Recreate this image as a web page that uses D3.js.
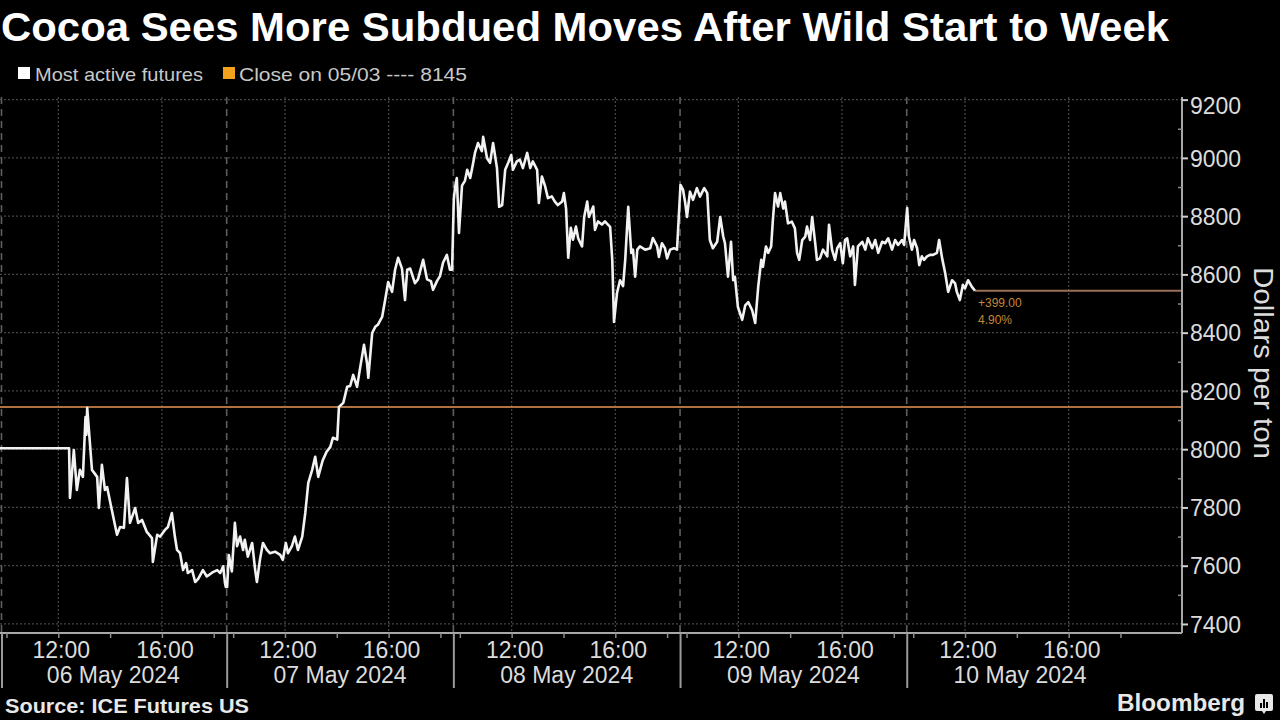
<!DOCTYPE html>
<html><head><meta charset="utf-8">
<script src="https://cdn.jsdelivr.net/npm/d3@7"></script>
<style>html,body{margin:0;padding:0;background:#000;}svg{display:block;}</style>
</head><body>
<svg id="chart" width="1280" height="720"></svg>
<script>
// ---------- data ----------
const title = "Cocoa Sees More Subdued Moves After Wild Start to Week";
const seriesName = "Most active futures";
const prevCloseLabel = "Close on 05/03";
const prevClose = 8145;
const source = "Source: ICE Futures US";
const yTitle = "Dollars per ton";
const dayLabels = ["06 May 2024", "07 May 2024", "08 May 2024", "09 May 2024", "10 May 2024"];
const sessionOpen = "09:45", sessionClose = "18:30";
const labelTimes = ["12:00", "16:00"];
const minorTimes = ["10:00", "12:00", "14:00", "16:00", "18:00"];
const yTicks = [7400, 7600, 7800, 8000, 8200, 8400, 8600, 8800, 9000, 9200];
const yMinor = [7500, 7700, 7900, 8100, 8300, 8500, 8700, 8900, 9100];

const may06 = [["09:45",8003],["12:25",8003],["12:27",7833],["12:36",7997],["12:43",7860],["12:50",7929],["12:57",7905],["13:03",8110],["13:05",8050],["13:07",8142],["13:18",7929],["13:30",7905],["13:34",7798],["13:41",7946],["13:48",7860],["13:53",7870],["14:04",7791],["14:16",7706],["14:23",7733],["14:32",7730],["14:39",7901],["14:46",7747],["14:58",7798],["15:05",7747],["15:14",7757],["15:25",7716],["15:37",7695],["15:39",7613],["15:49",7706],["15:56",7700],["16:07",7723],["16:14",7733],["16:23",7781],["16:30",7700],["16:35",7654],["16:42",7643],["16:49",7585],["16:56",7609],["17:00",7575],["17:10",7585],["17:17",7544],["17:24",7555],["17:35",7585],["17:44",7563],["17:56",7576],["18:08",7585],["18:15",7575],["18:22",7598],["18:26",7541],["18:28",7527]];
const may07 = [["09:46",7527],["09:50",7637],["09:57",7580],["10:04",7747],["10:09",7667],["10:16",7700],["10:23",7654],["10:27",7689],["10:34",7631],["10:44",7678],["10:51",7585],["10:55",7544],["11:02",7620],["11:09",7678],["11:18",7654],["11:25",7643],["11:37",7648],["11:49",7637],["11:55",7620],["12:02",7678],["12:07",7643],["12:16",7667],["12:23",7700],["12:30",7654],["12:40",7700],["12:47",7781],["12:54",7884],["13:03",7929],["13:10",7974],["13:17",7905],["13:27",7960],["13:36",7990],["13:45",8008],["13:51",8039],["14:01",8033],["14:05",8145],["14:15",8159],["14:24",8214],["14:31",8217],["14:38",8255],["14:47",8214],["14:54",8279],["15:03",8358],["15:10",8296],["15:13",8245],["15:22",8399],["15:29",8420],["15:35",8427],["15:45",8454],["15:52",8512],["15:59",8574],["16:08",8540],["16:15",8616],["16:22",8657],["16:31",8620],["16:38",8512],["16:43",8616],["16:50",8620],["17:01",8570],["17:08",8583],["17:20",8650],["17:29",8583],["17:38",8577],["17:43",8547],["17:52",8577],["17:59",8594],["18:06",8640],["18:15",8667],["18:22",8616],["18:27",8616]];
const may08 = [["09:46",8856],["09:49",8900],["09:53",8931],["09:58",8742],["10:05",8905],["10:12",8922],["10:17",8959],["10:24",8931],["10:30",8976],["10:35",9017],["10:42",9051],["10:51",9023],["10:54",9072],["11:03",8999],["11:10",8983],["11:17",9051],["11:26",8965],["11:31",8832],["11:38",8838],["11:45",8959],["11:52",8983],["11:59",9010],["12:03",8959],["12:12",8988],["12:19",8994],["12:26",8965],["12:36",9017],["12:43",8965],["12:49",8988],["12:59",8959],["13:03",8845],["13:10",8936],["13:17",8905],["13:24",8862],["13:33",8868],["13:40",8850],["13:47",8838],["13:57",8850],["14:01",8879],["14:06",8826],["14:11",8657],["14:17",8760],["14:22",8719],["14:29",8764],["14:34",8724],["14:43",8696],["14:48",8797],["14:55",8850],["14:59",8797],["15:09",8833],["15:13",8753],["15:20",8782],["15:29",8771],["15:36",8782],["15:43",8771],["15:48",8763],["15:53",8650],["15:57",8437],["16:04",8536],["16:11",8580],["16:18",8560],["16:23",8650],["16:30",8832],["16:37",8674],["16:41",8685],["16:46",8592],["16:51",8685],["16:57",8696],["17:09",8685],["17:21",8690],["17:27",8725],["17:37",8696],["17:41",8660],["17:48",8707],["17:55",8690],["18:00",8655],["18:07",8685],["18:16",8690],["18:23",8685]];
const may09 = [["09:46",8907],["09:52",8890],["09:57",8845],["10:01",8797],["10:08",8884],["10:15",8856],["10:24",8896],["10:31",8867],["10:41",8896],["10:48",8879],["10:54",8718],["11:01",8690],["11:11",8712],["11:18",8797],["11:25",8730],["11:29",8707],["11:36",8592],["11:43",8712],["11:48",8580],["11:52",8592],["11:59",8488],["12:09",8444],["12:16",8494],["12:23",8505],["12:32",8477],["12:39",8433],["12:46",8557],["12:53",8650],["12:57",8626],["13:04",8696],["13:09",8674],["13:16",8696],["13:20",8787],["13:25",8879],["13:32",8833],["13:37",8879],["13:44",8826],["13:48",8850],["13:55",8775],["14:04",8781],["14:11",8758],["14:16",8674],["14:21",8650],["14:28",8718],["14:35",8730],["14:39",8764],["14:46",8718],["14:51",8797],["14:58",8707],["15:02",8650],["15:09",8655],["15:16",8685],["15:26",8662],["15:30",8770],["15:37",8685],["15:44",8650],["15:49",8690],["15:56",8707],["16:02",8638],["16:07",8718],["16:12",8724],["16:19",8662],["16:26",8696],["16:30",8564],["16:37",8696],["16:47",8712],["16:54",8685],["17:00",8724],["17:10",8690],["17:17",8718],["17:24",8674],["17:33",8712],["17:40",8707],["17:47",8724],["17:56",8685],["18:03",8718],["18:10",8701],["18:19",8718],["18:24",8701]];
const may10 = [["09:46",8828],["09:50",8730],["09:57",8685],["10:02",8718],["10:09",8690],["10:14",8632],["10:20",8662],["10:25",8650],["10:32",8662],["10:39",8667],["10:46",8667],["10:55",8674],["11:00",8718],["11:07",8655],["11:14",8605],["11:21",8540],["11:30",8580],["11:37",8569],["11:41",8540],["11:48",8512],["11:55",8564],["12:00",8552],["12:07",8580],["12:16",8557],["12:23",8544]];
const sessions = [may06, may07, may08, may09, may10];

// ---------- layout ----------
const W = 1280, H = 720;
const plot = {left: 0, right: 1182, top: 97, bottom: 633};
const padHours = 1.875;
const font = '"Liberation Sans", Arial, sans-serif';

const mins = t => { const [h, m] = t.split(":").map(Number); return h * 60 + m; };
const sessLen = (mins(sessionClose) - mins(sessionOpen)) / 60;
const sh = (d, t) => d * sessLen + (mins(t) - mins(sessionOpen)) / 60;

const data = [];
sessions.forEach((s, d) => s.forEach(([t, v]) => data.push({h: sh(d, t), v})));

const x = d3.scaleLinear().domain([0, dayLabels.length * sessLen + padHours]).range([plot.left, plot.right]);
const y = d3.scaleLinear().domain([7369, 9209]).range([plot.bottom, plot.top]);

const svg = d3.select("#chart");
svg.append("rect").attr("width", W).attr("height", H).attr("fill", "#000");

// title
svg.append("text").attr("x", 1).attr("y", 41).text(title)
  .attr("font-family", font).attr("font-weight", "bold").attr("font-size", 40)
  .attr("fill", "#fff").attr("textLength", 1168).attr("lengthAdjust", "spacingAndGlyphs");

// legend
const lg = svg.append("g").attr("font-family", font).attr("font-size", 19).attr("fill", "#c8c8c8");
lg.append("rect").attr("x", 18).attr("y", 67).attr("width", 12).attr("height", 12).attr("fill", "#fff");
lg.append("text").attr("x", 35).attr("y", 81).text(seriesName).attr("textLength", 168).attr("lengthAdjust", "spacingAndGlyphs");
lg.append("rect").attr("x", 223).attr("y", 67).attr("width", 12).attr("height", 12).attr("fill", "#f4a11e");
lg.append("text").attr("x", 239).attr("y", 81).text(prevCloseLabel + " ---- " + prevClose).attr("textLength", 228).attr("lengthAdjust", "spacingAndGlyphs");

// grid
const grid = svg.append("g");
grid.selectAll(".hg").data(yTicks).join("line")
  .attr("x1", plot.left).attr("x2", plot.right).attr("y1", d => y(d)).attr("y2", d => y(d))
  .attr("stroke", "#474747").attr("stroke-width", 1.2).attr("stroke-dasharray", "2,2");
const vDotted = [];
dayLabels.forEach((_, d) => labelTimes.forEach(t => vDotted.push(sh(d, t))));
grid.selectAll(".vg").data(vDotted).join("line")
  .attr("x1", d => x(d)).attr("x2", d => x(d)).attr("y1", plot.top).attr("y2", plot.bottom)
  .attr("stroke", "#474747").attr("stroke-width", 1.2).attr("stroke-dasharray", "2,2");
const dayStarts = dayLabels.map((_, d) => d * sessLen);
grid.selectAll(".dg").data(dayStarts).join("line")
  .attr("x1", d => Math.max(x(d), 1.5)).attr("x2", d => Math.max(x(d), 1.5)).attr("y1", plot.top).attr("y2", plot.bottom)
  .attr("stroke", "#5e5e5e").attr("stroke-width", 1.6).attr("stroke-dasharray", "7,5");

// previous close line
svg.append("line").attr("x1", plot.left).attr("x2", plot.right)
  .attr("y1", y(prevClose)).attr("y2", y(prevClose))
  .attr("stroke", "#b0703f").attr("stroke-width", 2);

// last value line + annotation
const last = data[data.length - 1];
svg.append("line").attr("x1", x(last.h)).attr("x2", plot.right)
  .attr("y1", y(last.v)).attr("y2", y(last.v))
  .attr("stroke", "#9a7058").attr("stroke-width", 2);
const chg = last.v - prevClose;
const ann = svg.append("g").attr("font-family", font).attr("font-size", 12).attr("fill", "#c4883a");
ann.append("text").attr("x", x(last.h) + 3).attr("y", y(last.v) + 16).text((chg >= 0 ? "+" : "") + chg.toFixed(2));
ann.append("text").attr("x", x(last.h) + 3).attr("y", y(last.v) + 33).text((chg / prevClose * 100).toFixed(2) + "%");

// series line
svg.append("path").datum(data)
  .attr("d", d3.line().x(d => x(d.h)).y(d => y(d.v)))
  .attr("fill", "none").attr("stroke", "#f2f2f2").attr("stroke-width", 2.6)
  .attr("stroke-linejoin", "round");

// y axis
const yAxis = svg.append("g").attr("transform", `translate(${plot.right},0)`)
  .call(d3.axisRight(y).tickValues(yTicks).tickSize(6).tickFormat(d3.format("d")));
yAxis.select(".domain").attr("stroke", "#a8a8a8").attr("stroke-width", 2)
  .attr("d", `M0,${plot.top}V${plot.bottom}`);
yAxis.selectAll(".tick line").attr("stroke", "#cfcfcf").attr("stroke-width", 2);
yAxis.selectAll(".tick text").attr("x", 8).attr("fill", "#dcdcdc")
  .attr("font-family", font).attr("font-size", 23)
  .attr("dy", d => d === yTicks[yTicks.length - 1] ? "0.62em" : "0.36em");
const yMinorAxis = svg.append("g").attr("transform", `translate(${plot.right},0)`)
  .call(d3.axisLeft(y).tickValues(yMinor).tickSize(4).tickFormat(""));
yMinorAxis.select(".domain").remove();
yMinorAxis.selectAll(".tick line").attr("stroke", "#8a8a8a").attr("stroke-width", 1.5);

svg.append("text").attr("transform", `translate(1254,${(plot.top + plot.bottom) / 2 - 2}) rotate(90)`)
  .attr("text-anchor", "middle").text(yTitle)
  .attr("font-family", font).attr("font-size", 27).attr("fill", "#dcdcdc")
  .attr("textLength", 192).attr("lengthAdjust", "spacingAndGlyphs");

// x axis
const minorTickVals = [];
dayLabels.forEach((_, d) => minorTimes.forEach(t => minorTickVals.push(sh(d, t))));
const xAxis = svg.append("g").attr("transform", `translate(0,${plot.bottom})`)
  .call(d3.axisBottom(x).tickValues(minorTickVals).tickSize(5).tickFormat(""));
xAxis.select(".domain").attr("stroke", "#a8a8a8").attr("stroke-width", 2)
  .attr("d", `M${plot.left},0H${plot.right}`);
xAxis.selectAll(".tick line").attr("stroke", "#8a8a8a").attr("stroke-width", 1.5);
const sepAxis = svg.append("g").attr("transform", `translate(0,${plot.bottom})`)
  .call(d3.axisBottom(x).tickValues(dayStarts).tickSize(55).tickFormat(""));
sepAxis.select(".domain").remove();
sepAxis.selectAll(".tick line").attr("stroke", "#9a9a9a").attr("stroke-width", 2)
  .attr("transform", d => d === 0 ? "translate(1.5,0)" : null);

const xl = svg.append("g").attr("font-family", font).attr("font-size", 23).attr("fill", "#dcdcdc").attr("text-anchor", "middle");
dayLabels.forEach((lab, d) => {
  labelTimes.forEach(t => {
    xl.append("text").attr("x", x(sh(d, t)) + 3).attr("y", 658).text(t);
  });
  xl.append("text").attr("x", x(d * sessLen + sessLen / 2)).attr("y", 683).text(lab);
});

// footer
svg.append("text").attr("x", 5).attr("y", 713).text(source)
  .attr("font-family", font).attr("font-weight", "bold").attr("font-size", 21).attr("fill", "#e8e8e8")
  .attr("textLength", 244).attr("lengthAdjust", "spacingAndGlyphs");
svg.append("text").attr("x", 1117).attr("y", 711).text("Bloomberg")
  .attr("font-family", font).attr("font-weight", "bold").attr("font-size", 24).attr("fill", "#e8e8e8")
  .attr("textLength", 128).attr("lengthAdjust", "spacingAndGlyphs");
const icon = svg.append("g").attr("transform", "translate(1255,694)");
icon.append("path").attr("d", "M2,0H16Q18,0 18,2V15Q18,17 16,17H11L9,20L7,17H2Q0,17 0,15V2Q0,0 2,0Z").attr("fill", "#e8e8e8");
icon.append("rect").attr("x", 5).attr("y", 9).attr("width", 2).attr("height", 5).attr("fill", "#000");
icon.append("rect").attr("x", 8).attr("y", 5).attr("width", 2).attr("height", 9).attr("fill", "#000");
icon.append("rect").attr("x", 11).attr("y", 8).attr("width", 2).attr("height", 6).attr("fill", "#000");
</script>
</body></html>
